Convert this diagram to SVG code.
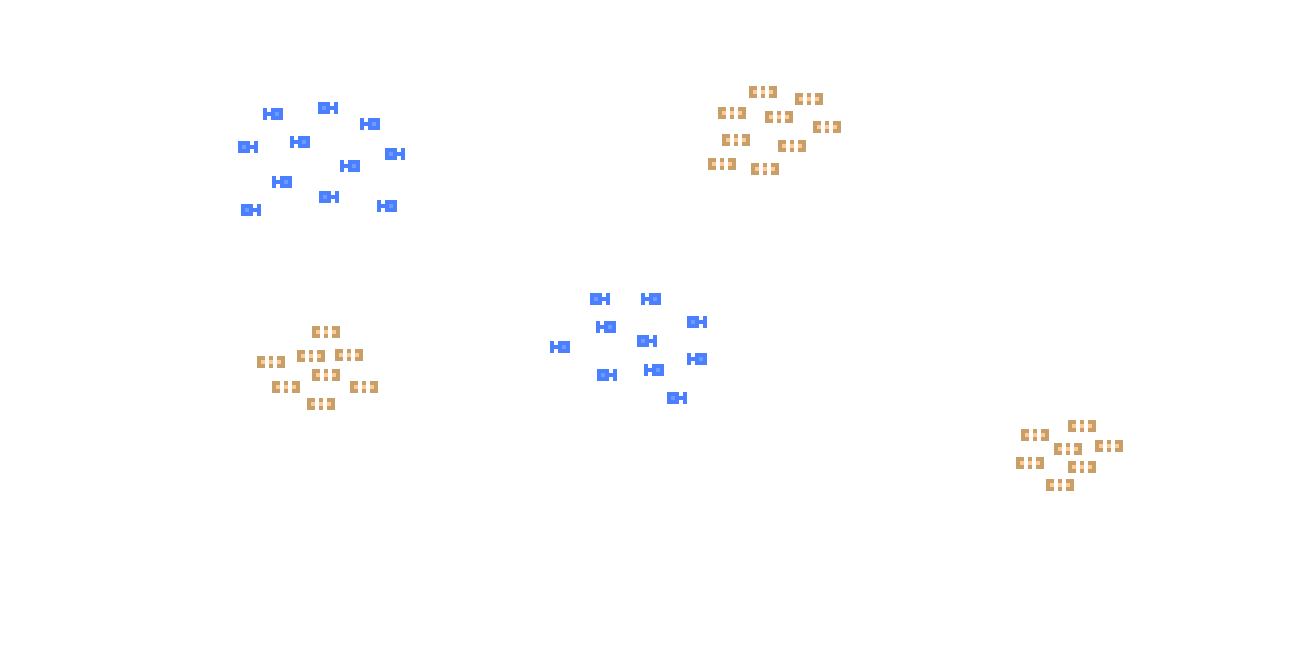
<svg xmlns="http://www.w3.org/2000/svg" width="1300" height="660" viewBox="0 0 1300 660" shape-rendering="crispEdges">
<style>.b{fill:#4a80ff}.bh{fill:#6f9bff}.t{fill:#c89e69}.th{fill:#ffcc99}</style>
<defs>
<g id="R"><rect class="b" width="12" height="12"/><rect class="bh" x="4" y="4" width="4" height="4"/><rect class="b" x="12" y="4" width="4" height="4"/><rect class="b" x="16" width="4" height="12"/></g>
<g id="L"><rect class="b" width="4" height="12"/><rect class="b" x="4" y="4" width="4" height="4"/><rect class="b" x="8" width="12" height="12"/><rect class="bh" x="12" y="4" width="4" height="4"/></g>
<g id="T"><rect class="t" width="8" height="12"/><rect class="th" x="4" y="4" width="4" height="4"/><rect class="t" x="12" width="4" height="12"/><rect class="th" x="12" y="4" width="4" height="4"/><rect class="t" x="20" width="8" height="12"/><rect class="th" x="20" y="4" width="4" height="4"/></g>
</defs>
<rect width="1300" height="660" fill="#fff"/>
<g id="connectors"/>
<g id="cluster-blue-1">
<g id="b1"><use href="#L" x="263" y="108"/></g><g id="b2"><use href="#R" x="318" y="102"/></g><g id="b3"><use href="#L" x="360" y="118"/></g><g id="b4"><use href="#R" x="238" y="141"/></g><g id="b5"><use href="#L" x="290" y="136"/></g><g id="b6"><use href="#R" x="385" y="148"/></g><g id="b7"><use href="#L" x="340" y="160"/></g><g id="b8"><use href="#L" x="272" y="176"/></g><g id="b9"><use href="#R" x="319" y="191"/></g><g id="b10"><use href="#R" x="241" y="204"/></g><g id="b11"><use href="#L" x="377" y="200"/></g>
</g>
<g id="cluster-blue-2">
<g id="c1"><use href="#R" x="590" y="293"/></g><g id="c2"><use href="#L" x="641" y="293"/></g><g id="c3"><use href="#R" x="687" y="316"/></g><g id="c4"><use href="#L" x="596" y="321"/></g><g id="c5"><use href="#R" x="637" y="335"/></g><g id="c6"><use href="#L" x="550" y="341"/></g><g id="c7"><use href="#L" x="687" y="353"/></g><g id="c8"><use href="#L" x="644" y="364"/></g><g id="c9"><use href="#R" x="597" y="369"/></g><g id="c10"><use href="#R" x="667" y="392"/></g>
</g>
<g id="cluster-tan-1">
<g id="t1"><use href="#T" x="749" y="86"/></g><g id="t2"><use href="#T" x="795" y="93"/></g><g id="t3"><use href="#T" x="718" y="107"/></g><g id="t4"><use href="#T" x="765" y="111"/></g><g id="t5"><use href="#T" x="813" y="121"/></g><g id="t6"><use href="#T" x="722" y="134"/></g><g id="t7"><use href="#T" x="778" y="140"/></g><g id="t8"><use href="#T" x="708" y="158"/></g><g id="t9"><use href="#T" x="751" y="163"/></g>
</g>
<g id="cluster-tan-2">
<g id="u1"><use href="#T" x="312" y="326"/></g><g id="u2"><use href="#T" x="257" y="356"/></g><g id="u3"><use href="#T" x="297" y="350"/></g><g id="u4"><use href="#T" x="335" y="349"/></g><g id="u5"><use href="#T" x="312" y="369"/></g><g id="u6"><use href="#T" x="272" y="381"/></g><g id="u7"><use href="#T" x="350" y="381"/></g><g id="u8"><use href="#T" x="307" y="398"/></g>
</g>
<g id="cluster-tan-3">
<g id="v1"><use href="#T" x="1068" y="420"/></g><g id="v2"><use href="#T" x="1021" y="429"/></g><g id="v3"><use href="#T" x="1095" y="440"/></g><g id="v4"><use href="#T" x="1054" y="443"/></g><g id="v5"><use href="#T" x="1016" y="457"/></g><g id="v6"><use href="#T" x="1068" y="461"/></g><g id="v7"><use href="#T" x="1046" y="479"/></g>
</g>
</svg>
